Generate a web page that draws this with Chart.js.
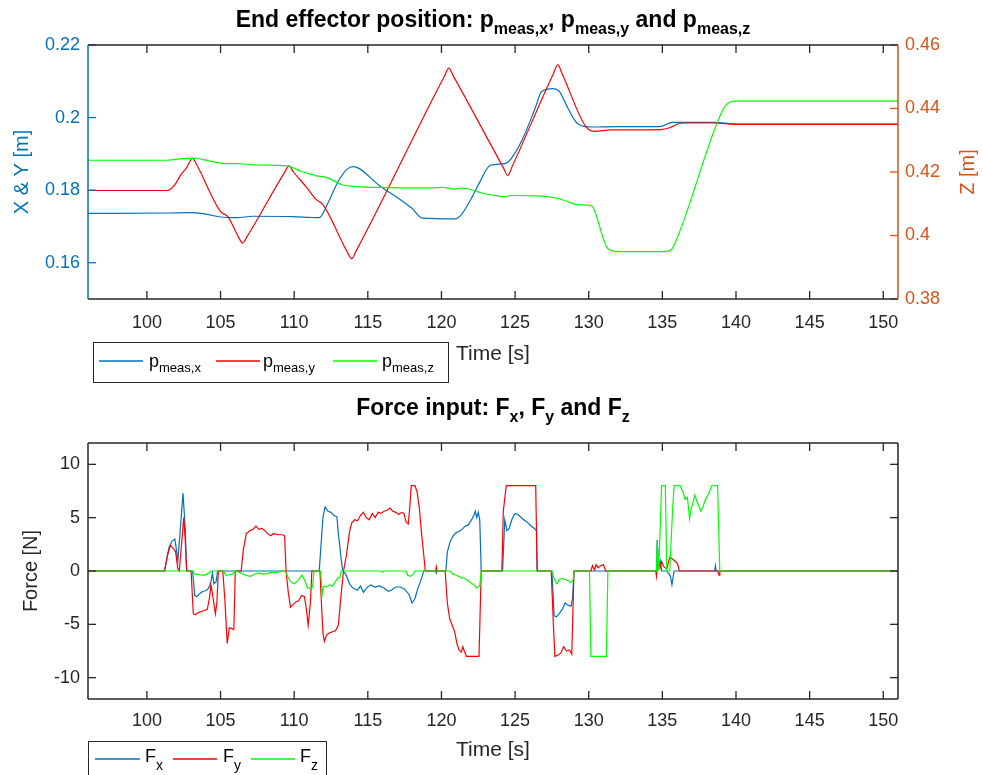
<!DOCTYPE html>
<html>
<head>
<meta charset="utf-8">
<script src="https://cdn.jsdelivr.net/npm/chart.js@4.4.0/dist/chart.umd.min.js"></script>
<style>
    body { margin: 0; background: #fff; }
    .panel { position: absolute; left: 0; width: 983px; }
    #panelPos { top: 0; height: 390px; }
    #panelForce { top: 390px; height: 385px; }
</style>
</head>
<body>
<div class="panel" id="panelPos"><canvas id="pos" width="983" height="390"></canvas></div>
<div class="panel" id="panelForce"><canvas id="force" width="983" height="385"></canvas></div>
<script>
// ---- end effector position ----
var timeTicks = [100, 105, 110, 115, 120, 125, 130, 135, 140, 145, 150];
var xyTicks = [0.16, 0.18, 0.2, 0.22];
var zTicks = [0.38, 0.4, 0.42, 0.44, 0.46];

var pxTime = [96, 101.5, 102.9, 104.0, 105.0, 106.1, 107.2, 109.9, 111.0, 111.7, 112.3, 113.0, 113.6, 114.0, 114.4,
    115.8, 117.0, 118.0, 118.7, 120.9, 121.3, 122.0, 122.6, 123.3, 124.3, 124.7, 125.5, 126.4, 126.8, 127.6, 128.0,
    128.6, 129.2, 130.1, 132.0, 134.8, 135.7, 138.4, 140.2, 151];
var pxVal = [0.1736, 0.1737, 0.1738, 0.1734, 0.1726, 0.1724, 0.1728, 0.1727, 0.1725, 0.1724, 0.1765, 0.1825, 0.1858, 0.1865, 0.1860,
    0.1812, 0.1780, 0.1750, 0.1723, 0.1721, 0.1730, 0.1775, 0.1822, 0.1868, 0.1873, 0.1885, 0.1940, 0.2030, 0.2072, 0.2080, 0.2072,
    0.2025, 0.1985, 0.1974, 0.1975, 0.1975, 0.1987, 0.1987, 0.1982, 0.1982];

var pyTime = [96, 101.4, 101.9, 102.3, 102.7, 103.1, 103.3, 105.0, 105.5, 106.2, 106.5, 106.8, 109.35, 109.65, 109.95,
    110.8, 111.5, 111.95, 113.6, 113.9, 114.2, 120.2, 120.5, 120.8, 124.2, 124.5, 124.8, 127.6, 127.9, 128.2,
    129.8, 130.4, 131.5, 134.9, 135.5, 136.3, 138.5, 140.0, 151];
var pyVal = [0.1799, 0.1799, 0.1815, 0.1842, 0.1862, 0.1888, 0.1876, 0.1741, 0.1727, 0.1672, 0.1654, 0.1672, 0.1849, 0.1867, 0.1850,
    0.1810, 0.1774, 0.1760, 0.1630, 0.1611, 0.1632, 0.2114, 0.2136, 0.2115, 0.1862, 0.1840, 0.1865, 0.2121, 0.2145, 0.2120,
    0.1975, 0.1962, 0.1966, 0.1967, 0.1972, 0.1985, 0.1985, 0.1981, 0.1981];

var pzTime = [96, 101.4, 102.0, 102.7, 103.3, 104.2, 105.0, 106.3, 107.5, 109.5, 110.0, 110.4, 111.0, 111.5, 112.2, 112.7,
    113.3, 114.0, 116.3, 118.0, 119.5, 120.1, 120.5, 120.9, 121.3, 121.7, 122.8, 123.9, 124.3, 124.7, 126.5, 127.8,
    128.5, 129.2, 130.1, 130.3, 131.2, 131.5, 132.1, 135.1, 135.6, 135.9, 139.1, 139.5, 140.0, 151];
var pzVal = [0.4237, 0.4237, 0.4240, 0.4243, 0.4243, 0.4235, 0.4228, 0.4226, 0.4222, 0.4219, 0.4212, 0.4203, 0.4195, 0.4188, 0.4183, 0.4172,
    0.4159, 0.4155, 0.4151, 0.4150, 0.4150, 0.4152, 0.4149, 0.4146, 0.4149, 0.4148, 0.4133, 0.4124, 0.4122, 0.4126, 0.4125, 0.4118,
    0.4108, 0.4097, 0.4095, 0.4088, 0.3965, 0.3953, 0.3949, 0.3949, 0.3955, 0.3980, 0.4395, 0.4418, 0.4423, 0.4423];

// ---- force input ----
var forceTicks = [-10, -5, 0, 5, 10];

var fxTime = [96, 101.2, 101.5, 101.7, 101.9, 102.0, 102.1, 102.3, 102.45, 102.6, 102.7, 103.1, 103.25, 103.4, 103.6, 103.8,
    104.0, 104.2, 104.35, 104.45, 104.55, 104.7, 104.8, 111.7, 111.85, 111.95, 112.1, 112.3, 112.5, 112.7, 112.9, 113.0,
    113.2, 113.3, 113.5, 113.8, 114.0, 114.3, 114.5, 114.7, 114.9, 115.2, 115.5, 115.8, 116.1, 116.4, 116.6, 116.9, 117.2,
    117.5, 117.8, 118.0, 118.2, 118.4, 118.6, 118.8, 119.6, 119.65, 119.7, 120.3, 120.4, 120.6, 120.8, 121.0, 121.2, 121.4,
    121.6, 121.8, 122.0, 122.2, 122.3, 122.4, 122.5, 122.6, 122.7, 124.15, 124.3, 124.45, 124.6, 124.8, 125.0, 125.2, 125.5,
    125.8, 126.1, 126.3, 126.45, 126.5, 127.5, 127.65, 127.8, 128.0, 128.2, 128.4, 128.6, 128.8, 128.9, 129.0, 134.6, 134.65,
    134.75, 134.85, 134.95, 135.3, 135.55, 135.65, 135.75, 135.8, 138.55, 138.6, 138.65, 151];
var fxVal = [0, 0, 2.2, 2.8, 3.0, 2.0, 0.9, 4.5, 7.3, 4.0, 0, 0, -2.3, -2.4, -2.1, -1.9,
    -1.85, -1.6, -1.0, -0.2, -1.2, -1.0, 0, 0, 3.0, 5.0, 6.0, 5.6, 5.5, 5.2, 5.1, 3.5,
    1.0, 0, -0.3, -1.3, -1.6, -1.8, -1.4, -2.0, -1.6, -1.3, -1.5, -1.4, -1.6, -1.9, -1.8, -1.5, -1.5,
    -1.7, -2.2, -3.0, -2.6, -1.6, -0.9, 0, 0, -0.2, 0, 0, 1.8, 2.8, 3.3, 3.6, 3.7, 3.9,
    4.2, 4.3, 4.7, 5.2, 5.6, 5.0, 5.5, 4.8, 0, 0, 4.8, 3.8, 4.0, 4.9, 5.4, 5.3, 4.9,
    4.6, 4.2, 4.0, 3.8, 0, 0, -4.2, -4.3, -4.0, -3.6, -3.0, -3.2, -3.3, -2.6, 0, 0, 2.9,
    0.5, 1.0, 0, 0, -0.5, -1.3, -0.4, 0, 0, 0.5, 0, 0];

var fyTime = [96, 101.2, 101.4, 101.6, 101.8, 101.95, 102.1, 102.2, 102.35, 102.5, 102.6, 102.7, 103.0, 103.15, 103.3, 103.5,
    103.7, 103.9, 104.1, 104.25, 104.35, 104.5, 104.65, 104.75, 104.85, 105.15, 105.3, 105.45, 105.6, 105.75, 105.9, 105.95,
    106.0, 106.4, 106.55, 106.75, 107.0, 107.2, 107.4, 107.6, 107.8, 108.0, 108.2, 108.4, 108.6, 108.9, 109.2, 109.35, 109.45,
    109.6, 109.75, 109.9, 110.1, 110.3, 110.5, 110.7, 110.85, 110.95, 111.1, 111.2, 111.75, 111.85, 111.95, 112.05, 112.2,
    112.4, 112.6, 112.8, 113.0, 113.2, 113.35, 113.55, 113.75, 113.9, 114.1, 114.3, 114.5, 114.7, 114.9, 115.1, 115.3, 115.5,
    115.7, 115.9, 116.1, 116.3, 116.5, 116.7, 116.9, 117.1, 117.3, 117.45, 117.6, 117.75, 117.85, 117.95, 118.2, 118.35, 118.5,
    118.65, 118.8, 118.9, 119.6, 119.65, 119.7, 120.25, 120.4, 120.55, 120.7, 120.9, 121.05, 121.2, 121.35, 121.45, 121.55,
    121.7, 122.55, 122.7, 124.1, 124.2, 124.4, 126.4, 126.5, 127.45, 127.6, 127.7, 127.9, 128.1, 128.3, 128.5, 128.7, 128.85,
    129.0, 130.15, 130.25, 130.4, 130.5, 130.65, 130.8, 131.0, 131.15, 134.55, 134.6, 134.7, 134.85, 134.95, 135.1, 135.3,
    135.5, 135.7, 135.9, 136.05, 136.15, 138.75, 138.85, 138.9, 151];
var fyVal = [0, 0, 1.5, 2.4, 2.1, 1.8, 0.2, 0, 2.5, 5.0, 3.0, 0, 0, -4.0, -4.1, -3.9,
    -3.8, -3.7, -3.6, -2.5, -1.3, -2.6, -4.0, -3.0, 0, 0, -2.8, -6.8, -5.3, -5.4, -5.5, -3.0,
    0, 0, 2.0, 3.5, 3.8, 3.9, 4.2, 3.9, 4.0, 3.8, 3.5, 3.3, 3.5, 3.4, 3.4, 3.3, 0,
    -2.0, -3.4, -3.2, -2.9, -2.8, -2.3, -2.4, -3.8, -5.1, -3.0, 0, 0, -3.0, -5.8, -6.6, -6.0,
    -5.8, -5.7, -5.6, -5.1, -2.0, 0, 1.5, 3.6, 4.5, 4.8, 4.7, 5.2, 5.5, 5.0, 4.8, 5.4, 5.0,
    5.5, 5.4, 5.6, 5.7, 5.9, 5.6, 5.5, 5.3, 5.5, 5.4, 4.6, 4.4, 6.0, 8.0, 8.0, 7.4, 5.9,
    3.5, 1.5, 0, 0, 0.4, 0, 0, -3.0, -4.4, -5.0, -5.7, -6.8, -7.4, -7.6, -7.1, -7.5,
    -8.0, -8.0, 0, 0, 5.6, 8.0, 8.0, 0, 0, -5.0, -8.0, -7.9, -7.7, -7.1, -7.5, -7.4, -7.8,
    0, 0, 0.5, 0.1, 0.6, 0.3, 0.5, 0.6, 0, 0, -0.5, 1.0, 0.3, 0.9, 0.4, 0.2,
    1.3, 1.1, 0.9, 0.6, 0, 0, -0.4, 0, 0];

var fzTime = [96, 103.1, 103.25, 103.6, 103.9, 104.2, 104.35, 105.2, 105.35, 105.6, 105.8, 106.0, 106.4, 106.7, 107.0, 107.3,
    107.6, 107.9, 108.2, 108.5, 108.8, 109.1, 109.4, 109.55, 109.75, 110.0, 110.2, 110.4, 110.55, 110.75, 110.9, 111.1,
    111.25, 111.35, 111.8, 111.9, 112.0, 112.2, 112.4, 112.6, 112.8, 113.0, 113.1, 113.2, 115.9, 116.0, 116.1, 117.6, 117.7,
    117.9, 118.1, 118.2, 120.6, 120.8, 121.0, 121.3, 121.6, 121.9, 122.2, 122.4, 122.6, 122.7, 127.5, 127.7, 127.85, 128.0,
    128.2, 128.4, 128.6, 128.8, 128.95, 129.0, 130.05, 130.15, 131.2, 131.3, 134.6, 134.65, 134.75, 134.95, 135.2, 135.3,
    135.5, 135.7, 135.8, 136.2, 136.4, 136.55, 136.7, 136.85, 136.95, 137.1, 137.2, 137.35, 137.5, 137.6, 137.75, 137.9, 138.05,
    138.2, 138.35, 138.75, 138.9, 151];
var fzVal = [0, 0, -0.3, -0.35, -0.4, -0.2, 0, 0, -0.4, -0.35, -0.3, 0, -0.2, -0.4, -0.5, -0.3,
    -0.2, -0.3, -0.25, -0.1, -0.15, -0.05, 0, -0.5, -1.0, -1.2, -1.0, -0.6, -0.4, -1.0, -1.6, -1.6,
    -1.5, 0, 0, -2.2, -1.4, -1.5, -1.3, -1.4, -1.0, -0.6, -0.6, 0, 0, -0.1, 0, 0, -0.4,
    -0.5, -0.3, 0, 0, -0.3, -0.4, -0.6, -0.7, -1.0, -1.3, -1.6, -1.4, 0, 0, -0.9, -1.2, -0.8,
    -0.7, -0.8, -0.9, -1.1, -0.8, 0, 0, -8.0, -8.0, 0, 0, 2.75, 0, 8.0, 8.0, 0,
    0, 5.9, 8.0, 8.0, 7.4, 6.7, 6.9, 4.9, 5.8, 6.5, 7.1, 6.5, 6.0, 5.6, 6.0, 6.6, 7.0,
    7.4, 8.0, 8.0, 0, 0];

var posNames = [['p', 'meas,x'], ['p', 'meas,y'], ['p', 'meas,z']];
var forceNames = [['F', 'x'], ['F', 'y'], ['F', 'z']];

var BLUE = '#0072BD', RED = '#FF0000', GREEN = '#00FF00', ORANGE = '#D95319', INK = '#262626';
var FONT = '"Liberation Sans", Arial, sans-serif';

function pts(t, v) {
    return t.map(function (x, i) { return {x: x, y: v[i]}; });
}

function fixTicks(values) {
    return function (scale) {
        scale.ticks = values.map(function (v) { return {value: v}; });
    };
}

function fixSize(w, h) {
    return function (scale) {
        if (w !== null) scale.width = w;
        if (h !== null) scale.height = h;
    };
}

// 0.20 -> "0.2", like the plotting tool does
function shortNum(v) {
    return String(+(+v).toFixed(4));
}

// text with subscripts, parts = [{t, sub}]
function richText(ctx, parts, x, y, opt) {
    var f = function (s) { return (opt.bold ? 'bold ' : '') + s + 'px ' + FONT; };
    var total = 0;
    parts.forEach(function (p) {
        ctx.font = f(p.sub ? opt.sub : opt.size);
        total += ctx.measureText(p.t).width;
    });
    var cx = opt.align === 'center' ? x - total / 2 : x;
    ctx.fillStyle = opt.color || '#000';
    ctx.textAlign = 'left';
    ctx.textBaseline = 'alphabetic';
    parts.forEach(function (p) {
        ctx.font = f(p.sub ? opt.sub : opt.size);
        ctx.fillText(p.t, cx, p.sub ? y + opt.drop : y);
        cx += ctx.measureText(p.t).width;
    });
}

function vText(ctx, text, x, y, size, color) {
    ctx.save();
    ctx.translate(x, y);
    ctx.rotate(-Math.PI / 2);
    ctx.font = size + 'px ' + FONT;
    ctx.fillStyle = color;
    ctx.textAlign = 'center';
    ctx.textBaseline = 'middle';
    ctx.fillText(text, 0, 0);
    ctx.restore();
}

function hText(ctx, text, x, y, size, color) {
    ctx.font = size + 'px ' + FONT;
    ctx.fillStyle = color;
    ctx.textAlign = 'center';
    ctx.textBaseline = 'alphabetic';
    ctx.fillText(text, x, y);
}

function line(ctx, x1, y1, x2, y2, color, w) {
    ctx.beginPath();
    ctx.strokeStyle = color;
    ctx.lineWidth = w;
    ctx.moveTo(x1, y1);
    ctx.lineTo(x2, y2);
    ctx.stroke();
}

// boxed axes with inward ticks
function drawFrame(chart, leftColor, rightId, rightColor) {
    var ctx = chart.ctx, a = chart.chartArea, sx = chart.scales.x, sy = chart.scales.y;
    var tk = 8;
    ctx.save();
    timeTicks.forEach(function (v) {
        var px = sx.getPixelForValue(v);
        line(ctx, px, a.bottom, px, a.bottom - tk, INK, 1.3);
        line(ctx, px, a.top, px, a.top + tk, INK, 1.3);
    });
    sy.ticks.forEach(function (t) {
        var py = sy.getPixelForValue(t.value);
        line(ctx, a.left, py, a.left + tk, py, leftColor, 1.3);
        if (!rightId) line(ctx, a.right, py, a.right - tk, py, INK, 1.3);
    });
    if (rightId) {
        var sr = chart.scales[rightId];
        sr.ticks.forEach(function (t) {
            var py = sr.getPixelForValue(t.value);
            line(ctx, a.right, py, a.right - tk, py, rightColor, 1.3);
        });
    }
    line(ctx, a.left, a.top, a.right, a.top, INK, 1.5);
    line(ctx, a.left, a.bottom, a.right, a.bottom, INK, 1.5);
    line(ctx, a.left, a.top, a.left, a.bottom, leftColor, 1.5);
    line(ctx, a.right, a.top, a.right, a.bottom, rightColor || INK, 1.5);
    ctx.restore();
}

function drawLegend(ctx, box, items, colors, font) {
    ctx.save();
    ctx.fillStyle = '#fff';
    ctx.fillRect(box.x, box.y, box.w, box.h);
    ctx.strokeStyle = INK;
    ctx.lineWidth = 1;
    ctx.strokeRect(box.x + 0.5, box.y + 0.5, box.w, box.h);
    items.forEach(function (it, i) {
        line(ctx, it.x0, box.ly, it.x1, box.ly, colors[i], 1.3);
        richText(ctx, [{t: it.name[0]}, {t: it.name[1], sub: true}], it.tx, box.ty,
            {size: font.size, sub: font.sub, drop: font.drop, color: '#000'});
    });
    ctx.restore();
}

function lineSet(label, t, v, color, axis, order, smooth) {
    return {
        label: label,
        data: pts(t, v),
        borderColor: color,
        borderWidth: 1.2,
        pointRadius: 0,
        yAxisID: axis,
        order: order,
        cubicInterpolationMode: smooth ? 'monotone' : 'default',
        tension: 0
    };
}

var common = {
    responsive: false,
    animation: false,
    parsing: false,
    plugins: {legend: {display: false}, title: {display: false}, tooltip: {enabled: false}}
};

var tickFont = {family: FONT, size: 18};

new Chart(document.getElementById('pos'), {
    type: 'line',
    data: {
        datasets: [
            lineSet('p_meas,x', pxTime, pxVal, BLUE, 'y', 2, true),
            lineSet('p_meas,y', pyTime, pyVal, RED, 'y', 1, true),
            lineSet('p_meas,z', pzTime, pzVal, GREEN, 'y2', 0, true)
        ]
    },
    options: Object.assign({}, common, {
        layout: {padding: {top: 45, left: 0, right: 0, bottom: 0}},
        scales: {
            x: {
                type: 'linear', min: 96, max: 151, position: 'bottom',
                afterBuildTicks: fixTicks(timeTicks), afterFit: fixSize(null, 91),
                grid: {display: false, drawTicks: false}, border: {display: false},
                ticks: {font: tickFont, color: INK, padding: 13, maxRotation: 0}
            },
            y: {
                type: 'linear', min: 0.15, max: 0.22, position: 'left',
                afterBuildTicks: fixTicks(xyTicks), afterFit: fixSize(88, null),
                grid: {display: false, drawTicks: false}, border: {display: false},
                ticks: {font: tickFont, color: BLUE, padding: 8, callback: shortNum}
            },
            y2: {
                type: 'linear', min: 0.38, max: 0.46, position: 'right',
                afterBuildTicks: fixTicks(zTicks), afterFit: fixSize(85, null),
                grid: {display: false, drawTicks: false}, border: {display: false},
                ticks: {font: tickFont, color: ORANGE, padding: 7, callback: shortNum}
            }
        }
    }),
    plugins: [{
        id: 'posDecor',
        afterDraw: function (chart) {
            var ctx = chart.ctx, a = chart.chartArea;
            drawFrame(chart, BLUE, 'y2', ORANGE);
            var mid = (a.left + a.right) / 2;
            richText(ctx, [
                {t: 'End effector position: p'}, {t: 'meas,x', sub: true}, {t: ', p'}, {t: 'meas,y', sub: true},
                {t: ' and p'}, {t: 'meas,z', sub: true}
            ], mid, 27, {size: 23, sub: 16, drop: 7, bold: true, align: 'center'});
            vText(ctx, 'X & Y [m]', 22, (a.top + a.bottom) / 2, 20, BLUE);
            vText(ctx, 'Z [m]', 968, (a.top + a.bottom) / 2, 20, ORANGE);
            hText(ctx, 'Time [s]', mid, 360, 21, INK);
            drawLegend(ctx, {x: 93, y: 342, w: 355, h: 40, ly: 361, ty: 367}, [
                {x0: 99, x1: 143, tx: 149, name: posNames[0]},
                {x0: 216, x1: 260, tx: 263, name: posNames[1]},
                {x0: 333, x1: 377, tx: 382, name: posNames[2]}
            ], [BLUE, RED, GREEN], {size: 18, sub: 13, drop: 5});
        }
    }]
});

new Chart(document.getElementById('force'), {
    type: 'line',
    data: {
        datasets: [
            lineSet('F_x', fxTime, fxVal, BLUE, 'y', 2, false),
            lineSet('F_y', fyTime, fyVal, RED, 'y', 1, false),
            lineSet('F_z', fzTime, fzVal, GREEN, 'y', 0, false)
        ]
    },
    options: Object.assign({}, common, {
        layout: {padding: {top: 53, left: 0, right: 85, bottom: 0}},
        scales: {
            x: {
                type: 'linear', min: 96, max: 151, position: 'bottom',
                afterBuildTicks: fixTicks(timeTicks), afterFit: fixSize(null, 76),
                grid: {display: false, drawTicks: false}, border: {display: false},
                ticks: {font: tickFont, color: INK, padding: 11, maxRotation: 0}
            },
            y: {
                type: 'linear', min: -12, max: 12, position: 'left',
                afterBuildTicks: fixTicks(forceTicks), afterFit: fixSize(88, null),
                grid: {display: false, drawTicks: false}, border: {display: false},
                ticks: {font: tickFont, color: INK, padding: 8}
            }
        }
    }),
    plugins: [{
        id: 'forceDecor',
        afterDraw: function (chart) {
            var ctx = chart.ctx, a = chart.chartArea;
            drawFrame(chart, INK, null, INK);
            var mid = (a.left + a.right) / 2;
            richText(ctx, [
                {t: 'Force input: F'}, {t: 'x', sub: true}, {t: ', F'}, {t: 'y', sub: true},
                {t: ' and F'}, {t: 'z', sub: true}
            ], mid, 25, {size: 23, sub: 16, drop: 7, bold: true, align: 'center'});
            vText(ctx, 'Force [N]', 31, (a.top + a.bottom) / 2, 20, INK);
            hText(ctx, 'Time [s]', mid, 366, 21, INK);
            drawLegend(ctx, {x: 88, y: 351, w: 238, h: 50, ly: 369, ty: 372}, [
                {x0: 95, x1: 140, tx: 145, name: forceNames[0]},
                {x0: 173, x1: 217, tx: 223, name: forceNames[1]},
                {x0: 251, x1: 295, tx: 300, name: forceNames[2]}
            ], [BLUE, RED, GREEN], {size: 18, sub: 14, drop: 8});
        }
    }]
});
</script>
</body>
</html>
